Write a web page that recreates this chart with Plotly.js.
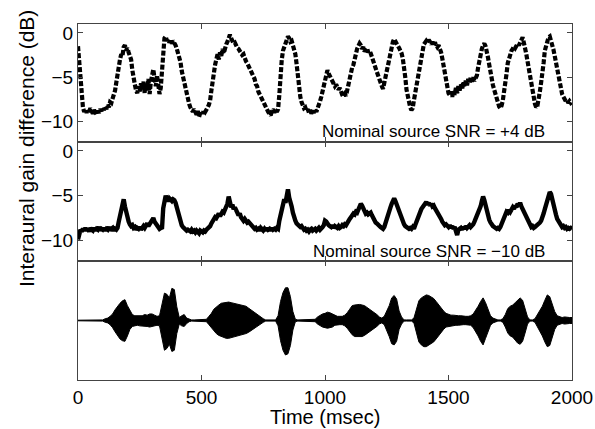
<!DOCTYPE html>
<html>
<head>
<meta charset="utf-8">
<script src="https://cdn.plot.ly/plotly-3.0.1.min.js"></script>
<style>html,body{margin:0;padding:0;background:#fff;}#chart{width:595px;height:429px;}</style>
</head>
<body>
<div id="chart"></div>
<script>
// Interaural gain difference (dB), sampled every 5 ms from 0 to 2000 ms
const timeStartMs = 0;
const gainStepMs = 5;
const gainSnrPlus4 = [
-1.5,-3.2,-5.5,-7.2,-8.4,-8.9,-8.6,-9.0,-8.7,-8.9,-8.5,-8.8,-9.1,-8.7,-8.9,-9.2,-8.8,-9.0,-8.6,-8.8,
-8.4,-8.7,-8.3,-8.6,-8.1,-8.4,-7.8,-7.9,-7.4,-7.0,-6.5,-5.6,-4.4,-3.4,-3.0,-2.4,-2.6,-1.6,-1.4,-2.0,
-1.7,-2.2,-2.5,-3.0,-4.2,-5.3,-5.8,-6.5,-6.8,-6.0,-6.6,-5.7,-6.3,-5.5,-6.8,-5.9,-6.4,-5.2,-6.9,-5.5,
-4.6,-4.1,-5.2,-6.0,-4.8,-6.4,-6.9,-6.2,-4.0,-1.5,-0.6,-0.4,-0.9,-0.7,-1.1,-0.8,-1.2,-0.9,-1.1,-1.4,
-1.8,-2.3,-2.8,-3.3,-4.3,-5.0,-5.6,-6.3,-6.9,-7.5,-8.0,-8.4,-8.7,-8.9,-8.6,-9.0,-9.2,-8.8,-9.5,-9.0,
-8.8,-9.1,-8.7,-8.9,-8.5,-8.4,-8.1,-7.6,-6.5,-5.2,-4.2,-3.6,-3.0,-2.4,-3.0,-2.2,-2.6,-1.8,-2.3,-1.6,
-1.3,-1.0,-0.5,-0.2,-0.6,-0.9,-1.2,-1.1,-1.5,-1.7,-1.8,-2.1,-2.3,-2.5,-2.4,-2.9,-3.2,-3.4,-3.7,-3.9,
-4.2,-4.5,-4.9,-5.2,-5.8,-6.0,-6.6,-6.9,-7.2,-7.6,-7.9,-8.2,-8.5,-8.6,-8.9,-9.1,-9.3,-8.8,-8.6,-9.0,
-8.7,-8.9,-8.6,-7.0,-4.5,-3.0,-2.0,-1.5,-1.3,-0.8,-0.4,-0.6,-1.0,-0.9,-1.5,-1.6,-2.4,-3.5,-5.0,-6.3,
-7.2,-7.8,-8.1,-8.5,-8.4,-8.8,-8.6,-9.0,-8.7,-9.1,-8.8,-9.0,-8.6,-8.9,-8.5,-8.2,-7.7,-7.2,-6.6,-6.0,
-5.3,-4.5,-4.2,-4.6,-4.9,-5.3,-5.5,-5.8,-6.0,-5.8,-6.2,-6.4,-6.2,-6.7,-7.0,-7.2,-6.9,-7.1,-6.5,-5.5,
-4.8,-4.4,-3.9,-3.6,-2.8,-2.2,-1.8,-1.5,-1.2,-1.4,-1.8,-1.6,-2.1,-1.9,-1.7,-2.2,-2.0,-2.3,-2.8,-3.2,
-3.6,-4.0,-4.4,-4.8,-5.3,-5.6,-6.0,-6.3,-5.6,-5.0,-4.4,-3.6,-2.8,-2.2,-1.6,-1.0,-0.7,-0.9,-1.2,-1.3,
-1.7,-2.0,-2.3,-2.9,-3.8,-5.0,-6.4,-7.3,-8.0,-8.4,-8.7,-8.5,-7.6,-6.8,-6.0,-5.2,-4.4,-3.2,-2.3,-1.7,
-1.3,-1.1,-0.9,-1.1,-0.8,-1.0,-1.3,-1.0,-1.4,-1.1,-1.3,-1.6,-1.4,-1.7,-2.2,-2.9,-3.7,-4.5,-5.4,-6.2,
-6.8,-7.0,-6.6,-7.2,-6.5,-7.0,-6.2,-6.8,-6.0,-6.5,-5.8,-6.4,-5.5,-6.1,-5.4,-5.9,-5.2,-5.7,-5.0,-5.5,
-5.0,-5.4,-5.1,-4.8,-3.9,-3.0,-2.3,-1.8,-1.4,-1.2,-1.5,-2.0,-2.8,-3.6,-4.5,-5.3,-5.9,-6.4,-7.0,-7.5,
-8.0,-8.3,-8.5,-8.2,-7.6,-6.8,-5.6,-4.6,-3.4,-2.8,-2.4,-2.0,-1.8,-1.5,-1.7,-1.3,-1.2,-1.4,-1.0,-0.7,
-0.5,-1.1,-1.6,-2.4,-3.2,-3.9,-4.8,-5.6,-6.3,-7.2,-8.0,-8.4,-8.2,-7.6,-6.6,-5.6,-4.8,-3.4,-2.0,-1.4,
-0.9,-0.5,-0.4,-0.8,-1.4,-1.9,-2.6,-3.3,-4.0,-5.0,-5.8,-6.4,-6.9,-7.2,-7.4,-7.7,-7.6,-7.9,-7.7,-8.0,
-8.1];
const gainSnrMinus10 = [
-9.9,-9.0,-8.8,-9.0,-8.7,-8.9,-8.6,-8.9,-8.7,-9.0,-8.6,-8.8,-8.9,-8.6,-8.9,-8.7,-8.8,-8.5,-8.9,-8.7,
-8.8,-8.6,-8.9,-8.7,-8.8,-8.5,-8.9,-8.7,-8.6,-8.9,-8.7,-8.8,-8.6,-7.9,-7.3,-6.8,-5.8,-5.4,-6.2,-6.9,
-7.5,-7.9,-8.2,-8.4,-8.3,-8.6,-8.5,-8.8,-8.6,-8.7,-8.5,-8.8,-8.6,-8.4,-8.6,-8.3,-8.1,-8.4,-8.2,-8.0,
-7.8,-7.5,-7.9,-8.1,-8.4,-8.5,-8.7,-8.6,-8.7,-6.4,-5.2,-5.0,-5.4,-5.6,-5.3,-5.5,-5.6,-5.4,-5.5,-5.8,
-6.3,-6.9,-7.5,-7.9,-8.3,-8.5,-8.6,-8.7,-8.9,-8.8,-8.9,-9.0,-8.8,-9.0,-8.9,-9.1,-8.9,-9.0,-9.2,-8.9,
-9.0,-9.1,-8.9,-9.0,-8.8,-8.7,-8.5,-8.4,-8.1,-7.9,-7.6,-7.4,-7.5,-7.2,-7.0,-7.3,-7.1,-6.8,-6.9,-6.6,
-6.3,-5.9,-5.1,-5.6,-6.3,-6.0,-6.5,-6.3,-6.8,-6.9,-7.2,-7.0,-7.4,-7.7,-7.8,-7.6,-7.9,-8.0,-7.9,-8.1,
-8.2,-8.4,-8.6,-8.7,-8.6,-8.8,-8.7,-8.9,-8.6,-8.8,-8.9,-8.7,-8.9,-8.6,-8.8,-8.7,-8.9,-8.6,-8.8,-8.7,
-8.8,-8.6,-8.7,-7.8,-7.2,-6.6,-6.0,-5.4,-5.8,-4.9,-4.3,-5.2,-5.6,-6.2,-6.9,-7.5,-7.8,-8.1,-8.3,-8.4,
-8.5,-8.4,-8.6,-8.8,-8.7,-8.9,-8.8,-9.0,-8.8,-8.7,-8.9,-8.8,-8.7,-8.9,-8.8,-8.6,-8.8,-8.7,-8.5,-8.3,
-7.8,-7.9,-8.2,-8.3,-8.4,-8.5,-8.3,-8.6,-8.4,-8.5,-8.6,-8.4,-8.6,-8.5,-8.3,-8.4,-8.2,-8.3,-8.0,-7.8,
-7.6,-7.4,-7.2,-7.0,-7.1,-6.8,-6.9,-6.5,-6.3,-5.9,-6.1,-6.4,-6.8,-7.0,-6.9,-7.1,-7.0,-6.9,-7.2,-7.5,
-7.8,-8.0,-8.1,-8.3,-8.4,-8.5,-8.6,-8.7,-8.5,-8.0,-7.4,-7.0,-6.7,-6.3,-5.9,-5.6,-5.3,-5.6,-6.0,-6.3,
-6.7,-7.1,-7.6,-7.9,-8.2,-8.4,-8.5,-8.6,-8.7,-8.6,-8.7,-8.5,-8.7,-8.3,-7.9,-7.6,-7.2,-6.8,-6.5,-6.3,
-6.1,-5.9,-5.7,-6.0,-5.8,-6.1,-5.9,-6.2,-6.1,-6.4,-6.6,-6.8,-7.0,-7.3,-7.6,-7.9,-8.1,-8.3,-8.2,-8.4,
-8.5,-8.3,-8.6,-8.4,-8.7,-8.5,-8.9,-9.4,-8.8,-8.7,-8.6,-8.8,-8.5,-8.7,-8.4,-8.6,-8.5,-8.3,-8.5,-8.4,
-8.2,-7.9,-7.6,-7.3,-7.0,-6.6,-6.2,-5.6,-5.1,-5.5,-6.2,-6.8,-7.3,-7.7,-8.0,-8.3,-8.4,-8.5,-8.6,-8.7,
-8.6,-8.7,-8.5,-8.2,-7.8,-7.4,-7.1,-6.8,-6.9,-6.6,-6.8,-6.4,-6.3,-6.5,-6.1,-6.3,-5.9,-6.1,-5.8,-6.2,
-6.5,-6.9,-7.0,-7.4,-7.8,-8.1,-8.3,-8.5,-8.4,-8.6,-8.5,-8.4,-8.3,-8.2,-8.0,-7.8,-7.5,-7.0,-6.5,-6.1,
-5.6,-5.0,-4.6,-4.8,-5.5,-6.1,-6.6,-7.1,-7.6,-7.8,-8.1,-8.3,-8.5,-8.4,-8.6,-8.5,-8.7,-8.6,-8.7,-8.6,
-8.7];
// Speech waveform envelope (normalized amplitude), sampled every 10 ms
const waveStepMs = 10;
const waveUpper = [
0.005,0.005,0.005,0.005,0.008,0.006,0.012,0.005,0.005,0.005,
0.01,0.03,0.04,0.07,0.11,0.18,0.24,0.29,0.33,0.35,
0.25,0.16,0.10,0.08,0.08,0.09,0.08,0.10,0.09,0.11,
0.11,0.09,0.07,0.08,0.26,0.46,0.44,0.38,0.54,0.52,
0.23,0.05,0.08,0.10,0.04,0.02,0.01,0.01,0.01,0.01,
0.01,0.01,0.02,0.07,0.12,0.19,0.23,0.26,0.29,0.30,
0.31,0.31,0.30,0.29,0.28,0.27,0.26,0.25,0.24,0.21,
0.18,0.15,0.12,0.08,0.05,0.03,0.01,0.01,0.01,0.01,
0.01,0.08,0.32,0.47,0.55,0.55,0.40,0.15,0.02,0.01,
0.01,0.01,0.01,0.01,0.01,0.01,0.02,0.06,0.09,0.11,
0.12,0.14,0.13,0.11,0.08,0.07,0.07,0.07,0.09,0.13,
0.19,0.25,0.26,0.27,0.27,0.26,0.25,0.22,0.19,0.17,
0.14,0.10,0.06,0.04,0.07,0.15,0.25,0.38,0.42,0.36,
0.16,0.06,0.01,0.01,0.01,0.01,0.04,0.20,0.33,0.38,
0.41,0.43,0.42,0.40,0.37,0.32,0.26,0.21,0.16,0.12,
0.10,0.09,0.09,0.08,0.08,0.08,0.07,0.07,0.07,0.08,
0.11,0.17,0.24,0.32,0.38,0.30,0.20,0.08,0.04,0.02,
0.01,0.01,0.03,0.10,0.20,0.24,0.26,0.30,0.34,0.38,
0.34,0.20,0.06,0.01,0.01,0.03,0.10,0.16,0.24,0.34,
0.43,0.40,0.28,0.15,0.08,0.06,0.05,0.06,0.05,0.05,
0.05];
const waveLower = [
-0.005,-0.005,-0.005,-0.005,-0.008,-0.006,-0.012,-0.005,-0.005,-0.005,
-0.01,-0.03,-0.04,-0.07,-0.12,-0.19,-0.25,-0.31,-0.34,-0.35,
-0.26,-0.15,-0.10,-0.09,-0.08,-0.09,-0.09,-0.10,-0.10,-0.11,
-0.10,-0.09,-0.08,-0.09,-0.28,-0.50,-0.47,-0.40,-0.52,-0.50,
-0.22,-0.06,-0.09,-0.10,-0.05,-0.02,-0.01,-0.01,-0.01,-0.01,
-0.01,-0.01,-0.02,-0.07,-0.12,-0.18,-0.22,-0.25,-0.27,-0.29,
-0.30,-0.30,-0.29,-0.28,-0.27,-0.26,-0.25,-0.24,-0.22,-0.20,
-0.17,-0.14,-0.11,-0.08,-0.05,-0.03,-0.01,-0.01,-0.01,-0.01,
-0.01,-0.09,-0.34,-0.50,-0.58,-0.56,-0.42,-0.16,-0.02,-0.01,
-0.01,-0.01,-0.01,-0.01,-0.01,-0.01,-0.02,-0.06,-0.09,-0.11,
-0.12,-0.13,-0.12,-0.11,-0.08,-0.07,-0.07,-0.07,-0.09,-0.13,
-0.19,-0.24,-0.27,-0.27,-0.27,-0.27,-0.25,-0.22,-0.20,-0.17,
-0.14,-0.10,-0.06,-0.04,-0.07,-0.16,-0.27,-0.39,-0.41,-0.35,
-0.15,-0.06,-0.01,-0.01,-0.01,-0.01,-0.04,-0.22,-0.36,-0.41,
-0.44,-0.44,-0.41,-0.39,-0.36,-0.31,-0.25,-0.20,-0.15,-0.11,
-0.10,-0.09,-0.08,-0.08,-0.08,-0.07,-0.07,-0.07,-0.07,-0.08,
-0.12,-0.18,-0.26,-0.35,-0.41,-0.30,-0.19,-0.08,-0.04,-0.02,
-0.01,-0.01,-0.03,-0.11,-0.21,-0.26,-0.28,-0.33,-0.38,-0.40,
-0.35,-0.21,-0.06,-0.01,-0.01,-0.03,-0.10,-0.17,-0.26,-0.36,
-0.44,-0.42,-0.29,-0.15,-0.08,-0.06,-0.05,-0.06,-0.05,-0.05,
-0.05];
const xTicks = [0, 500, 1000, 1500, 2000];
const yTicks = [0, -5, -10];
const labelSnrPlus4 = "Nominal source SNR = +4 dB";
const labelSnrMinus10 = "Nominal source SNR = \u221210 dB";
const yTitle = "Interaural gain difference (dB)";
const xTitle = "Time (msec)";

const FONT = '"Liberation Sans", Arial, Helvetica, sans-serif';
const LINE = '#444444';
const D1 = 119 / 356, D2 = 238 / 356;

const traces = [
  {type:'scatter', mode:'lines', x0:timeStartMs, dx:gainStepMs, y:gainSnrPlus4, xaxis:'x', yaxis:'y',
   line:{color:'#000', width:4.2, dash:'5px,2px'}, hoverinfo:'skip'},
  {type:'scatter', mode:'lines', x0:timeStartMs, dx:gainStepMs, y:gainSnrMinus10, xaxis:'x2', yaxis:'y2',
   line:{color:'#000', width:4.4}, hoverinfo:'skip'},
  {type:'scatter', mode:'lines', x0:timeStartMs, dx:waveStepMs, y:waveUpper, xaxis:'x3', yaxis:'y3',
   line:{color:'#000', width:1}, hoverinfo:'skip'},
  {type:'scatter', mode:'lines', x0:timeStartMs, dx:waveStepMs, y:waveLower, xaxis:'x3', yaxis:'y3',
   line:{color:'#000', width:1}, fill:'tonexty', fillcolor:'#000', hoverinfo:'skip'}
];

function xAx(anchor, labels){
  return {anchor:anchor, domain:[0,1], range:[0,2000], tickvals:xTicks, showticklabels:labels,
    ticks:'inside', ticklen:5, tickwidth:1, tickcolor:LINE, showline:true, linecolor:LINE, linewidth:1,
    mirror:'ticks', showgrid:false, zeroline:false,
    tickfont:{family:FONT, size:19, color:'#000'}};
}
function yAx(anchor, dom, ticks){
  return {anchor:anchor, domain:dom, range: ticks ? [-12.3, 1.0] : [-1, 1],
    tickvals: ticks ? yTicks : [], showticklabels:ticks,
    ticks: ticks ? 'inside' : '', ticklen:5, tickwidth:1, tickcolor:LINE,
    showline:true, linecolor:LINE, linewidth:1, mirror: ticks ? 'ticks' : true,
    showgrid:false, zeroline:false, tickfont:{family:FONT, size:19, color:'#000'}};
}

const layout = {
  width:595, height:429,
  margin:{l:78, r:23, t:24, b:49, pad:0},
  paper_bgcolor:'#fff', plot_bgcolor:'#fff',
  showlegend:false,
  font:{family:FONT, color:'#000'},
  xaxis: xAx('y', false),
  xaxis2: xAx('y2', false),
  xaxis3: xAx('y3', true),
  yaxis: yAx('x', [D2, 1], true),
  yaxis2: yAx('x2', [D1, D2], true),
  yaxis3: yAx('x3', [0, D1], false),
  annotations:[
    {text:labelSnrPlus4, xref:'paper', yref:'paper', x:0.949, y:0.697, xanchor:'right', yanchor:'middle',
     showarrow:false, font:{family:FONT, size:17, color:'#000'}},
    {text:labelSnrMinus10, xref:'paper', yref:'paper', x:0.949, y:0.362, xanchor:'right', yanchor:'middle',
     showarrow:false, font:{family:FONT, size:17, color:'#000'}},
    {text:yTitle, xref:'paper', yref:'paper', x:-0.103, y:0.649, xanchor:'center', yanchor:'middle',
     textangle:-90, showarrow:false, font:{family:FONT, size:21, color:'#000'}},
    {text:xTitle, xref:'paper', yref:'paper', x:0.5, y:-0.104, xanchor:'center', yanchor:'middle',
     showarrow:false, font:{family:FONT, size:20, color:'#000'}}
  ]
};

Plotly.newPlot('chart', traces, layout, {staticPlot:true, displayModeBar:false});
</script>
</body>
</html>
